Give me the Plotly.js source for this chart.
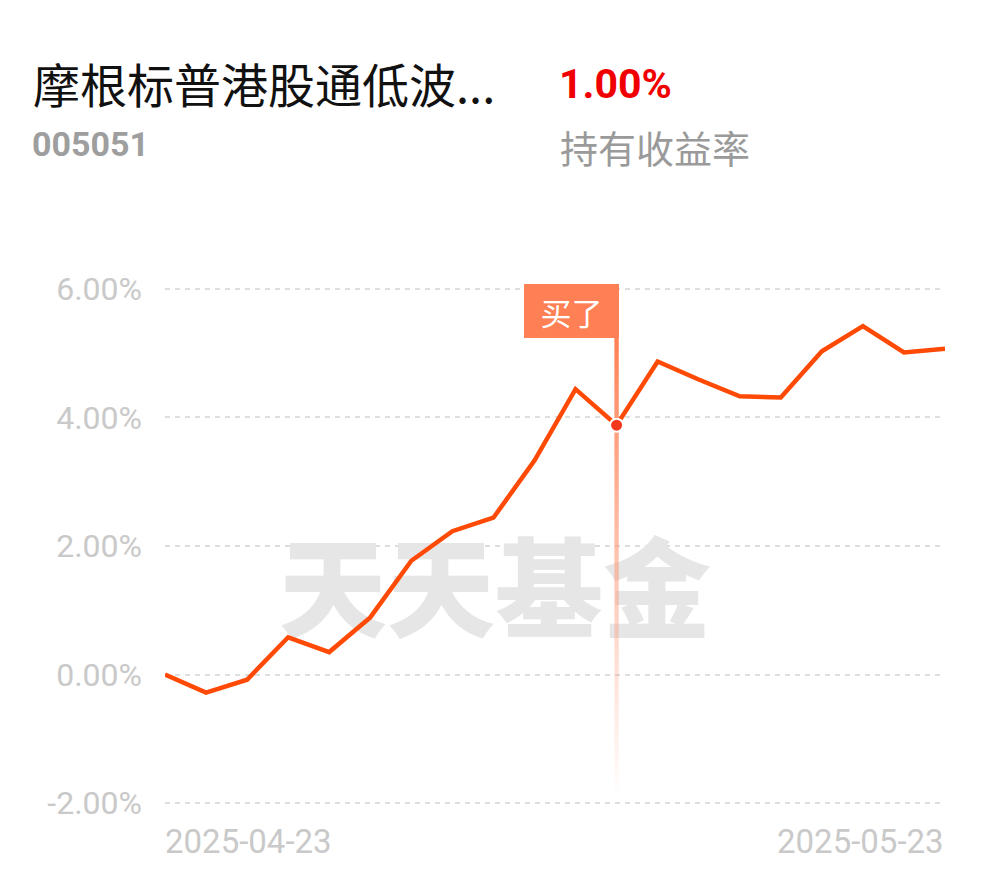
<!DOCTYPE html>
<html>
<head>
<meta charset="utf-8">
<script src="https://cdn.plot.ly/plotly-3.0.1.min.js"></script>
<style>html,body{margin:0;padding:0;background:#fff;}#chart{width:990px;height:878px;}</style>
</head>
<body>
<div id="chart"></div>
<script>
// ---- data ----
const fundName = '摩根标普港股通低波...';
const fundCode = '005051';
const holdReturn = '1.00%';
const holdLabel = '持有收益率';
const watermark = '天天基金';
const buyLabel = '买了';
const buyDate = '2025-05-13';
const dates = ['2025-04-23','2025-04-24','2025-04-25','2025-04-28','2025-04-29','2025-04-30',
  '2025-05-06','2025-05-07','2025-05-08','2025-05-09','2025-05-12','2025-05-13','2025-05-14',
  '2025-05-15','2025-05-16','2025-05-19','2025-05-20','2025-05-21','2025-05-22','2025-05-23'];
const returns = [0.00,-0.28,-0.08,0.58,0.35,0.89,1.77,2.23,2.44,3.33,4.44,3.88,4.87,4.59,4.33,4.31,5.03,5.42,5.01,5.07];
const yTicks = [-2,0,2,4,6];

// ---- geometry (style) ----
const W = 990, H = 878;
const pad = 0.06;                         // axis padding (value units) so edge gridlines show
const unitPx = 514 / 8;                   // pixels per 1%
const M = {l:165, r:45, t:Math.round(289 - pad*unitPx), b:Math.round(75 - pad*unitPx)};
const PW = W - M.l - M.r, PH = H - M.t - M.b;
const px = x => (x - M.l) / PW;          // pixel -> paper x
const py = y => (H - M.b - y) / PH;      // pixel -> paper y
const yMin = -2 - pad, yMax = 6 + pad;
const xIdx = dates.map((d, i) => i);
const buyIdx = dates.indexOf(buyDate);
const perPxX = (dates.length - 1) / PW;
const perPxY = (yMax - yMin) / PH;
const valAtPy = y => yMax - (y - M.t) * perPxY;
const flagBottom = valAtPy(338), lineBottom = valAtPy(796);
const halfW = 2.2 * perPxX;
const coral = 'rgb(255,128,84)';

const traces = [
  { // watermark beneath the line
    x: [(495 - M.l) * perPxX], y: [valAtPy(602)], mode: 'text', text: [watermark],
    textfont: {family: 'Noto Sans CJK SC', size: 108, color: '#e6e6e6', weight: 900},
    hoverinfo: 'skip', cliponaxis: false
  },
  { // buy vertical gradient bar
    x: [buyIdx - halfW, buyIdx + halfW, buyIdx + halfW, buyIdx - halfW, buyIdx - halfW],
    y: [flagBottom, flagBottom, lineBottom, lineBottom, flagBottom],
    mode: 'none', fill: 'toself',
    fillgradient: {type: 'vertical', colorscale: [[0, 'rgba(255,128,84,0)'], [0.15,'rgba(255,150,115,0.15)'], [1, 'rgba(255,128,84,1)']]},
    hoverinfo: 'skip'
  },
  {
    x: xIdx, y: returns, mode: 'lines', text: dates,
    line: {color: '#ff4a06', width: 4.5, shape: 'linear'},
    hoverinfo: 'skip', cliponaxis: false
  },
  {
    x: [buyIdx], y: [returns[buyIdx]], mode: 'markers',
    marker: {size: 13, color: '#f2381c', line: {color: '#ffffff', width: 2}},
    hoverinfo: 'skip', cliponaxis: false
  }
];

const grayTxt = '#c9c9c9';
const annotations = [
  {xref:'paper', yref:'paper', x: px(31), y: py(82), xanchor:'left', yanchor:'middle', showarrow:false,
   text: fundName, font:{family:'Noto Sans CJK SC', size:47, color:'#111111'}},
  {xref:'paper', yref:'paper', x: px(30), y: py(144), xanchor:'left', yanchor:'middle', showarrow:false,
   text: '<b>' + fundCode + '</b>', font:{family:'Roboto', size:34, color:'#9e9e9e'}},
  {xref:'paper', yref:'paper', x: px(557), y: py(84), xanchor:'left', yanchor:'middle', showarrow:false,
   text: '<b>' + holdReturn + '</b>', font:{family:'Roboto', size:41, color:'#f00000'}},
  {xref:'paper', yref:'paper', x: px(558), y: py(146), xanchor:'left', yanchor:'middle', showarrow:false,
   text: holdLabel, font:{family:'Noto Sans CJK SC', size:38, color:'#9a9a9a'}},
  {xref:'x', yref:'paper', x: 0, y: py(841), xanchor:'left', yanchor:'middle', showarrow:false, xshift:-2,
   text: dates[0], font:{family:'Roboto', size:33, color:grayTxt}},
  {xref:'x', yref:'paper', x: dates.length - 1, y: py(841), xanchor:'right', yanchor:'middle', showarrow:false, xshift:1,
   text: dates[dates.length - 1], font:{family:'Roboto', size:33, color:grayTxt}},
  {xref:'x', yref:'y', x: buyIdx + halfW, y: flagBottom, xanchor:'right', yanchor:'bottom', showarrow:false,
   text: buyLabel, bgcolor: coral, borderpad: 7, borderwidth: 0, width: 81, height: 40,
   font:{family:'Noto Sans CJK SC', size:31, color:'#ffffff'}}
];

const layout = {
  width: W, height: H, margin: M, paper_bgcolor: '#ffffff', plot_bgcolor: '#ffffff',
  showlegend: false, hovermode: false,
  xaxis: {range: [0, dates.length - 1], showgrid: false, zeroline: false, showticklabels: false, showline: false, ticks: '', fixedrange: true},
  yaxis: {range: [yMin, yMax], tickvals: yTicks, ticktext: yTicks.map(v => v.toFixed(2) + '%'),
    showgrid: true, gridcolor: '#dedede', gridwidth: 2, griddash: '5px,5px', zeroline: false, showline: false, ticks: '',
    ticklabelstandoff: 22, tickfont: {family: 'Roboto', size: 32, color: grayTxt}, fixedrange: true},
  annotations: annotations
};

Plotly.newPlot('chart', traces, layout, {displayModeBar: false, staticPlot: true});
</script>
</body>
</html>
